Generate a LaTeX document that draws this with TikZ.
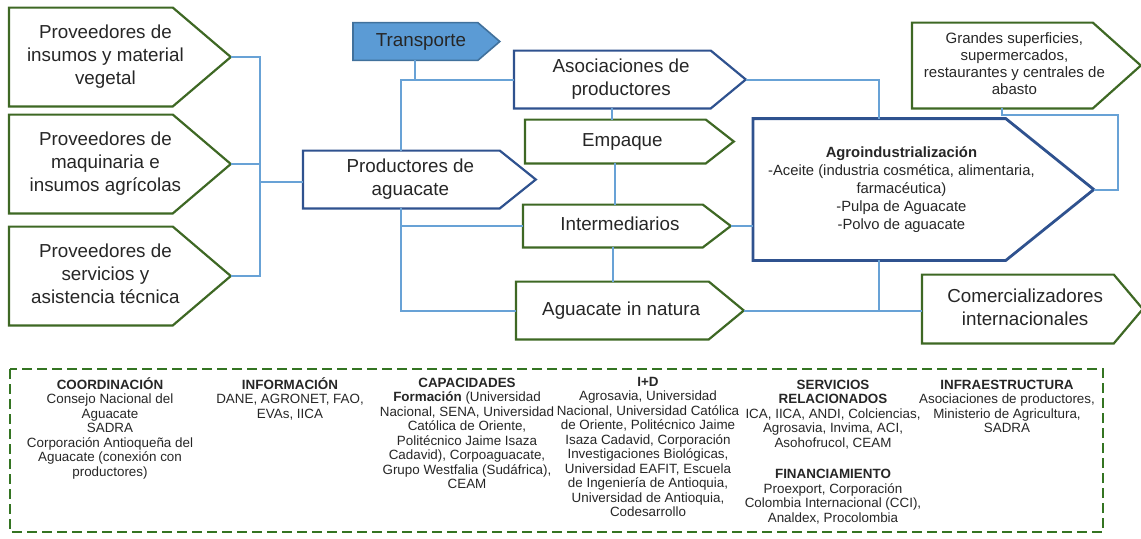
\documentclass[tikz,border=0pt]{standalone}
\usepackage{fontspec}
\setmainfont{Liberation Sans}
\usetikzlibrary{positioning}
\definecolor{stagegreen}{RGB}{62,104,36}
\definecolor{stageblue}{RGB}{47,82,143}
\definecolor{linkc}{RGB}{104,162,214}
\definecolor{transfill}{RGB}{91,155,213}
\definecolor{transdraw}{RGB}{65,113,156}
\definecolor{framec}{RGB}{52,116,34}
\newcommand{\stagetext}[2]{\makebox[0pt]{\hspace*{#1}\begin{tabular}{@{}c@{}}#2\end{tabular}}}
\newcommand{\outline}[3][]{\draw[#1] (#2.north west) -- (#2.north east) -- ([xshift=#3]#2.east) -- (#2.south east) -- (#2.south west) -- cycle;}

\tikzset{
  stage/.style={anchor=west, shape=rectangle, inner sep=0pt, text=black!85, font=\fontsize{9.4}{11.5}\selectfont},
  greenline/.style={draw=stagegreen, line width=1.1pt},
  blueline/.style={draw=stageblue, line width=1.1pt},
  link/.style={draw=linkc, line width=1pt},
  actor/.style={anchor=base, align=center, inner sep=0pt, text=black!85, font=\fontsize{6.7}{7.25}\selectfont}
}

\begin{document}
\begin{tikzpicture}[x=0.5pt, y=-0.5pt]
        \useasboundingbox (0,0) rectangle (1141,538);

        \node[stage, minimum width=81.5pt, minimum height=49pt] (prov1) at (9,57) {\stagetext{14.5pt}{Proveedores de\\insumos y material\\vegetal}};
        \node[stage, minimum width=81.5pt, minimum height=49pt] (prov2) at (9,164) {\stagetext{14.5pt}{Proveedores de\\maquinaria e\\insumos agrícolas}};
        \node[stage, minimum width=81.5pt, minimum height=49pt] (prov3) at (9,276) {\stagetext{14.5pt}{Proveedores de\\servicios y\\asistencia técnica}};
        \node[stage, minimum width=62pt, minimum height=18.5pt] (trans) at (353,41.5) {};
        \node[stage, minimum width=98pt, minimum height=28.5pt] (prod) at (303,179.5) {\stagetext{9pt}{Productores de\\aguacate}};
        \node[stage, minimum width=98pt, minimum height=28.5pt] (asoc) at (514,79.5) {\stagetext{8.75pt}{Asociaciones de\\productores}};
        \node[stage, minimum width=90pt, minimum height=21.5pt] (emp) at (525,141.5) {\stagetext{7pt}{Empaque}};
        \node[stage, minimum width=89.5pt, minimum height=21pt] (inter) at (523,226) {\stagetext{7pt}{Intermediarios}};
        \node[stage, minimum width=96pt, minimum height=28.5pt] (nat) at (516,310.5) {\stagetext{8.75pt}{Aguacate in natura}};
        \node[stage, minimum width=126pt, minimum height=70.5pt, font=\fontsize{7.4}{9}\selectfont] (agro) at (753,189.5) {\stagetext{22pt}{\textbf{Agroindustrialización}\\-Aceite (industria cosmética, alimentaria,\\farmacéutica)\\-Pulpa de Aguacate\\-Polvo de aguacate}};
        \node[stage, minimum width=90pt, minimum height=42.5pt, font=\fontsize{7.5}{8.5}\selectfont] (gran) at (912,65.5) {\stagetext{12pt}{Grandes superficies,\\supermercados,\\restaurantes y centrales de\\abasto}};
        \node[stage, minimum width=95.5pt, minimum height=34pt] (com) at (922,309) {\stagetext{7.25pt}{Comercializadores\\internacionales}};

        \outline[greenline]{prov1}{29pt}
        \outline[greenline]{prov2}{29pt}
        \outline[greenline]{prov3}{29pt}
        \outline[draw=transdraw, fill=transfill, line width=0.8pt]{trans}{11pt}
        \node[stage, anchor=center] (transtxt) at (trans.center) {\stagetext{5.5pt}{Transporte}};
        \outline[blueline]{prod}{18pt}
        \outline[blueline]{asoc}{17.5pt}
        \outline[greenline]{emp}{14pt}
        \outline[greenline]{inter}{14pt}
        \outline[greenline]{nat}{17.5pt}
        \outline[blueline, line width=1.4pt]{agro}{44pt}
        \outline[greenline]{gran}{24pt}
        \outline[greenline]{com}{14.5pt}

        \coordinate (jl) at (260,182);
        \coordinate (jr) at (1118,115);
        \draw[link] ([xshift=29pt]prov1.east) -| (prov3.east -| jl) -- ([xshift=29pt]prov3.east);
        \draw[link] ([xshift=29pt]prov2.east) -- (prov2.east -| jl);
        \draw[link] (jl) -- (jl -| prod.west);
        \draw[link] (trans.south) -- (trans.south |- asoc.west);
        \draw[link] (prod.north) |- (asoc.west);
        \draw[link] ([xshift=17.5pt]asoc.east) -| (agro.north);
        \draw[link] (asoc.south) -- (asoc.south |- emp.north);
        \draw[link] (emp.south) -- (emp.south |- inter.north);
        \draw[link] (inter.south) -- (inter.south |- nat.north);
        \draw[link] (prod.south) |- (nat.west);
        \draw[link] (prod.south |- inter.west) -- (inter.west);
        \draw[link] ([xshift=14pt]inter.east) -- (inter.east -| agro.west);
        \draw[link] ([xshift=17.5pt]nat.east) -- (nat.east -| com.west);
        \draw[link] (agro.south) -- (agro.south |- nat.east);
        \draw[link] (gran.south) |- (jr) |- ([xshift=44pt]agro.east);

        % base = baseline of the last line
        \draw[framec, line width=1.2pt, dash pattern=on 5pt off 2.5pt] (10,369) rectangle (1103,532);
        \node[actor] (coord) at (110,476) {\textbf{COORDINACIÓN}\\Consejo Nacional del\\Aguacate\\SADRA\\Corporación Antioqueña del\\Aguacate (conexión con\\productores)};
        \node[actor] (info) at (290,418) {\textbf{INFORMACIÓN}\\DANE, AGRONET, FAO,\\EVAs, IICA};
        \node[actor] (capac) at (467,488.5) {\textbf{CAPACIDADES}\\\textbf{Formación} (Universidad\\Nacional, SENA, Universidad\\Católica de Oriente,\\Politécnico Jaime Isaza\\Cadavid), Corpoaguacate,\\Grupo Westfalia (Sudáfrica),\\CEAM};
        \node[actor] (invest) at (648,516.5) {\textbf{I+D}\\Agrosavia, Universidad\\Nacional, Universidad Católica\\de Oriente, Politécnico Jaime\\Isaza Cadavid, Corporación\\Investigaciones Biológicas,\\Universidad EAFIT, Escuela\\de Ingeniería de Antioquia,\\Universidad de Antioquia,\\Codesarrollo};
        \node[actor] (serv) at (833,522.4) {\textbf{SERVICIOS}\\\textbf{RELACIONADOS}\\ICA, IICA, ANDI, Colciencias,\\Agrosavia, Invima, ACI,\\Asohofrucol, CEAM\\[8.7pt]\textbf{FINANCIAMIENTO}\\Proexport, Corporación\\Colombia Internacional (CCI),\\Analdex, Procolombia};
        \node[actor] (infra) at (1007,432.5) {\textbf{INFRAESTRUCTURA}\\Asociaciones de productores,\\Ministerio de Agricultura,\\SADRA};

        \end{tikzpicture}
\end{document}
